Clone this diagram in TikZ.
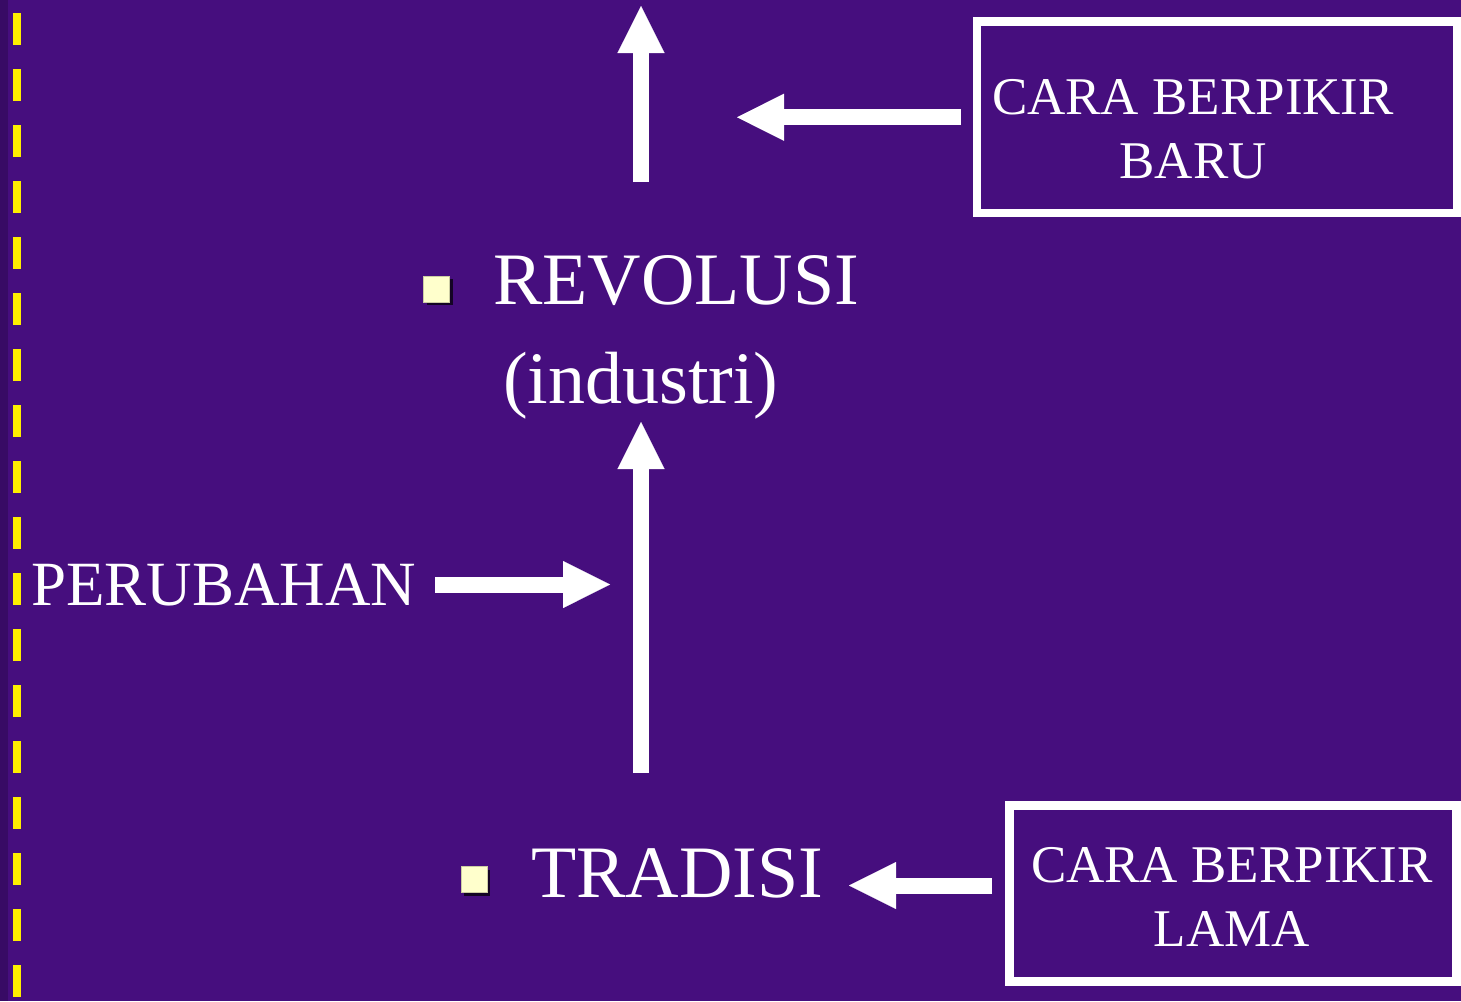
\documentclass[tikz,border=0pt]{standalone}
\usepackage{fontspec}
\setmainfont{Liberation Serif}
\usetikzlibrary{arrows.meta,shadows}
\definecolor{bgpurple}{RGB}{70,14,126}
\definecolor{bulletyellow}{RGB}{255,255,204}
\definecolor{dashyellow}{RGB}{255,238,0}
\begin{document}
\begin{tikzpicture}[x=1pt,y=-1pt,
  bigarrow/.style={draw=white,line width=16pt,-{Triangle[length=47pt,width=47pt,line width=0.1pt]}},
  bigtext/.style={text=white,inner sep=0pt,outer sep=0pt,font={\fontsize{74}{74}\selectfont},anchor=base west},
  midtext/.style={text=white,inner sep=0pt,outer sep=0pt,font={\fontsize{63}{63}\selectfont},anchor=base west},
  boxtext/.style={text=white,inner sep=0pt,outer sep=0pt,align=center,font={\fontsize{53}{64}\selectfont},anchor=north},
  framebox/.style={draw=white,inner sep=0pt,outer sep=0pt},
  bulletsq/.style={fill=bulletyellow,draw=bulletyellow!80!black,line width=0.6pt,minimum size=26pt,inner sep=0pt,outer sep=0pt,
    drop shadow={shadow xshift=3pt,shadow yshift=-3pt,opacity=0.7,fill=black}}
]
\useasboundingbox (0,0) rectangle (1461,1001);
\fill[bgpurple] (0,0) rectangle (1461,1001);
\fill[bgpurple!80!black] (0,0) rectangle (8,1001);
% yellow dashed line
\draw[dashyellow,line width=8pt,dash pattern=on 32pt off 24pt] (16.5,13) -- (16.5,1001);

% boxes
\node[framebox,line width=8.5pt,minimum width=480pt,minimum height=191.5pt] (baru) at (1217,117.25) {};
\node[framebox,line width=9pt,minimum width=447pt,minimum height=175.5pt] (lama) at (1233,893.25) {};
\node[boxtext] (barut) at (1193,79) {CARA BERPIKIR\\BARU};
\node[boxtext] (lamat) at (1232,847) {CARA BERPIKIR\\LAMA};

% bullets and main texts
\node[bulletsq] (b1) at (436.5,289) {};
\node[bulletsq] (b2) at (474,879.5) {};
\node[bigtext] (rev) at (493,304) {REVOLUSI};
\node[bigtext] (ind) at (503,403) {(industri)};
\node[bigtext] (trad) at (531,897) {TRADISI};
\node[midtext] (per) at (31,605) {PERUBAHAN};

% arrow end points
\coordinate (topbase) at (641,182);
\coordinate (toptip) at (641,6);
\coordinate (midbase) at (641,773);
\coordinate (midtip) at (641,422);
\coordinate (barutip) at (737,117.25);
\coordinate (lamatip) at (849,885.5);
\coordinate (pertip) at ([xshift=194pt]per.east);

% arrows
\draw[bigarrow] (topbase) -- (toptip);
\draw[bigarrow] (midbase) -- (midtip);
\draw[bigarrow] ([xshift=-16pt]baru.west) -- (barutip);
\draw[bigarrow] ([xshift=-17.5pt,yshift=7.75pt]lama.west) -- (lamatip);
\draw[bigarrow] ([xshift=19pt]per.east) -- (pertip);
\end{tikzpicture}
\end{document}
